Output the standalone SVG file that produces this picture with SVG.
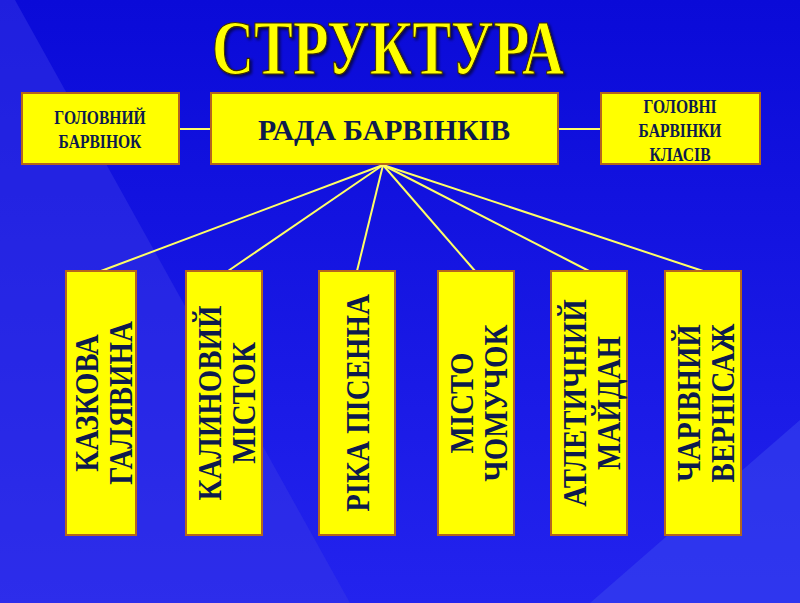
<svg xmlns="http://www.w3.org/2000/svg" width="800" height="603" viewBox="0 0 800 603">
<defs>
<linearGradient id="bg" x1="0" y1="0" x2="0" y2="1">
<stop offset="0" stop-color="#0a0ad8"/><stop offset="1" stop-color="#2323ee"/>
</linearGradient>
<filter id="sh"><feDropShadow dx="2" dy="2" stdDeviation="1.5" flood-color="#000" flood-opacity="0.6"/></filter>
</defs>
<style>
.box{fill:#ffff00;stroke:#b5651d;stroke-width:2}
.t{font-family:"Liberation Serif",serif;font-weight:bold;fill:#0d1a4d;text-anchor:middle}
.ln{stroke:#ffff66;stroke-width:2;fill:none}
</style>
<rect width="800" height="603" fill="url(#bg)"/>
<polygon points="0,0 15,0 350,603 0,603" fill="#3a3ae6" opacity="0.45"/>
<polygon points="800,420 800,603 590,603" fill="#3b4af0" opacity="0.5"/>
<text x="388" y="74" font-family="Liberation Serif,serif" font-weight="bold" font-size="78" fill="#ffff00" stroke="#3a2a00" stroke-width="1.2" text-anchor="middle" textLength="352" lengthAdjust="spacingAndGlyphs" filter="url(#sh)">СТРУКТУРА</text>
<g id="connectors" class="ln">
<line x1="179" y1="129" x2="211" y2="129"/>
<line x1="558" y1="129" x2="601" y2="129"/>
<line x1="383" y1="165" x2="101" y2="271"/>
<line x1="383" y1="165" x2="228" y2="271"/>
<line x1="383" y1="165" x2="357" y2="271"/>
<line x1="383" y1="165" x2="475" y2="271"/>
<line x1="383" y1="165" x2="589" y2="271"/>
<line x1="383" y1="165" x2="703" y2="271"/>
</g>
<g id="rada"><rect class="box" x="211" y="93" width="347" height="71"/><text class="t" x="384" y="140" font-size="30" textLength="252" lengthAdjust="spacingAndGlyphs">РАДА  БАРВІНКІВ</text></g>
<g id="golovnyi"><rect class="box" x="22" y="93" width="157" height="71"/><text class="t" font-size="19" transform="translate(100,0) scale(0.82,1)"><tspan x="0" y="124">ГОЛОВНИЙ</tspan><tspan x="0" y="148">БАРВІНОК</tspan></text></g>
<g id="golovni"><rect class="box" x="601" y="93" width="159" height="71"/><text class="t" font-size="19" transform="translate(680,0) scale(0.82,1)"><tspan x="0" y="113">ГОЛОВНІ</tspan><tspan x="0" y="137">БАРВІНКИ</tspan><tspan x="0" y="161">КЛАСІВ</tspan></text></g>
<g id="kazkova"><rect class="box" x="66" y="271" width="70" height="264"/><text class="t" font-size="34" transform="translate(101,403) rotate(-90) scale(0.85,1)"><tspan x="0" y="-3">КАЗКОВА</tspan><tspan x="0" y="31">ГАЛЯВИНА</tspan></text></g>
<g id="kalynovyi"><rect class="box" x="186" y="271" width="76" height="264"/><text class="t" font-size="34" transform="translate(224,403) rotate(-90) scale(0.85,1)"><tspan x="0" y="-3">КАЛИНОВИЙ</tspan><tspan x="0" y="31">МІСТОК</tspan></text></g>
<g id="rika"><rect class="box" x="319" y="271" width="76" height="264"/><text class="t" font-size="34" transform="translate(357,403) rotate(-90) scale(0.85,1)"><tspan x="0" y="12">РІКА   ПІСЕННА</tspan></text></g>
<g id="misto"><rect class="box" x="438" y="271" width="76" height="264"/><text class="t" font-size="34" transform="translate(476,403) rotate(-90) scale(0.85,1)"><tspan x="0" y="-3">МІСТО</tspan><tspan x="0" y="31">ЧОМУЧОК</tspan></text></g>
<g id="atletychnyi"><rect class="box" x="551" y="271" width="76" height="264"/><text class="t" font-size="34" transform="translate(589,403) rotate(-90) scale(0.85,1)"><tspan x="0" y="-3">АТЛЕТИЧНИЙ</tspan><tspan x="0" y="31">МАЙДАН</tspan></text></g>
<g id="charivnyi"><rect class="box" x="665" y="271" width="76" height="264"/><text class="t" font-size="34" transform="translate(703,403) rotate(-90) scale(0.85,1)"><tspan x="0" y="-3">ЧАРІВНИЙ</tspan><tspan x="0" y="31">ВЕРНІСАЖ</tspan></text></g>
</svg>
